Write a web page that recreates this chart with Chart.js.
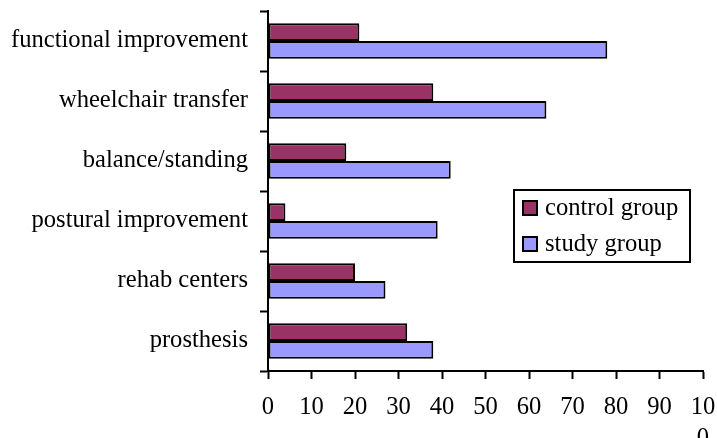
<!DOCTYPE html>
<html>
<head>
<meta charset="utf-8">
<script src="https://cdn.jsdelivr.net/npm/chart.js@4.4.1/dist/chart.umd.min.js"></script>
<style>
  html, body { margin: 0; padding: 0; background: #ffffff; }
  #wrap { width: 717px; height: 438px; }
</style>
</head>
<body>
<div id="wrap"><canvas id="chart" width="717" height="438"></canvas></div>
<script>
// Outcome categories, listed top to bottom
const categories = [
  'functional improvement',
  'wheelchair transfer',
  'balance/standing',
  'postural improvement',
  'rehab centers',
  'prosthesis'
];

// Percentages per group
const controlGroup = [21, 38, 18, 4, 20, 32];
const studyGroup   = [78, 64, 42, 39, 27, 38];

// Horizontal axis tick labels (100 wraps onto two lines)
const xTickLabels = ['0', '10', '20', '30', '40', '50', '60', '70', '80', '90', ['10', '0']];

const FONT = "'Liberation Serif', 'Times New Roman', serif";
const FONT_SIZE = 24.6;

// Boxed legend drawn inside the plot area
const boxedLegend = {
  id: 'boxedLegend',
  afterDraw(chart) {
    const ctx = chart.ctx;
    const area = chart.chartArea;
    const x0 = area.left + 246;
    const y0 = area.top + 179;
    const w = 176, h = 72;
    ctx.save();
    ctx.fillStyle = '#ffffff';
    ctx.fillRect(x0, y0, w, h);
    ctx.lineWidth = 2;
    ctx.strokeStyle = '#000000';
    ctx.strokeRect(x0, y0, w, h);
    ctx.font = FONT_SIZE + 'px ' + FONT;
    ctx.textBaseline = 'middle';
    ctx.textAlign = 'left';
    chart.data.datasets.forEach((ds, i) => {
      const cy = y0 + 18 + i * 36;
      ctx.fillStyle = ds.backgroundColor;
      ctx.fillRect(x0 + 9, cy - 7, 14, 14);
      ctx.lineWidth = 2;
      ctx.strokeStyle = '#000000';
      ctx.strokeRect(x0 + 9, cy - 7, 14, 14);
      ctx.fillStyle = '#000000';
      ctx.fillText(ds.label, x0 + 31, cy + 1);
    });
    ctx.restore();
  }
};

new Chart(document.getElementById('chart'), {
  type: 'bar',
  data: {
    labels: categories,
    datasets: [
      {
        label: 'control group',
        data: controlGroup,
        backgroundColor: '#993366',
        borderColor: '#000000',
        borderWidth: 2,
        borderSkipped: false,
        categoryPercentage: 0.59,
        barPercentage: 1.0
      },
      {
        label: 'study group',
        data: studyGroup,
        backgroundColor: '#9999FF',
        borderColor: '#000000',
        borderWidth: 2,
        borderSkipped: false,
        categoryPercentage: 0.59,
        barPercentage: 1.0
      }
    ]
  },
  options: {
    indexAxis: 'y',
    responsive: false,
    animation: false,
    devicePixelRatio: 1,
    layout: { padding: { top: 11, right: 14, left: 0, bottom: 0 } },
    plugins: {
      legend: { display: false },
      tooltip: { enabled: false }
    },
    scales: {
      x: {
        min: 0,
        max: 100,
        ticks: {
          stepSize: 10,
          color: '#000000',
          font: { family: FONT, size: FONT_SIZE, lineHeight: 1.25 },
          padding: 13,
          maxRotation: 0,
          autoSkip: false,
          callback: (v, i) => xTickLabels[i]
        },
        grid: {
          drawOnChartArea: false,
          drawTicks: true,
          tickLength: 8,
          tickWidth: 2,
          tickColor: '#000000'
        },
        border: { display: true, color: '#000000', width: 2 },
        afterFit(scale) {
          scale.height = 67;
          scale.paddingLeft = 0;
          scale.paddingRight = 0;
        }
      },
      y: {
        ticks: {
          color: '#000000',
          font: { family: FONT, size: FONT_SIZE },
          padding: 12,
          autoSkip: false
        },
        grid: {
          offset: true,
          drawOnChartArea: false,
          drawTicks: true,
          tickLength: 8,
          tickWidth: 2,
          tickColor: '#000000'
        },
        border: { display: true, color: '#000000', width: 2 },
        afterFit(scale) {
          scale.width = 268;
          scale.paddingTop = 0;
          scale.paddingBottom = 0;
        }
      }
    }
  },
  plugins: [boxedLegend]
});
</script>
</body>
</html>
